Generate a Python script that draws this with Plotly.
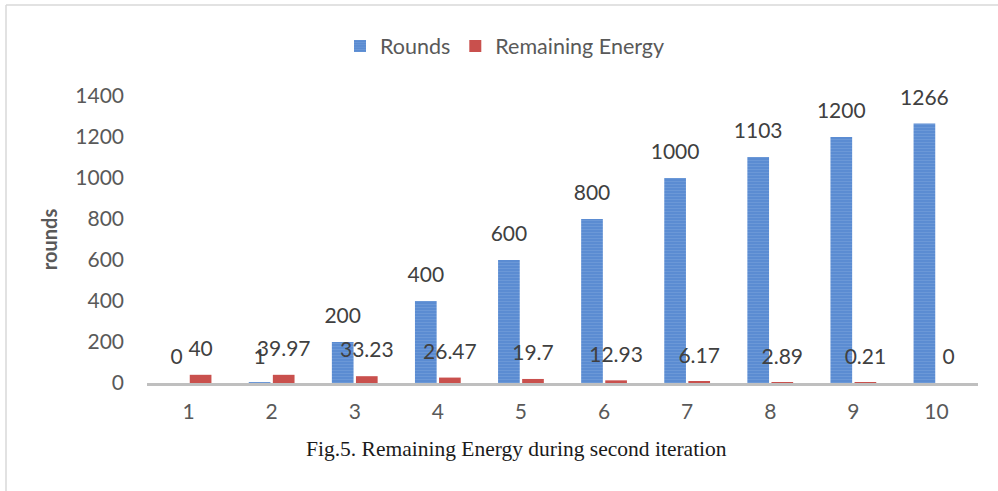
import plotly.graph_objects as go

categories = ["1", "2", "3", "4", "5", "6", "7", "8", "9", "10"]
rounds = [0, 1, 200, 400, 600, 800, 1000, 1103, 1200, 1266]
energy = [40, 39.97, 33.23, 26.47, 19.7, 12.93, 6.17, 2.89, 0.21, 0]
y_ticks = [0, 200, 400, 600, 800, 1000, 1200, 1400]

W, H = 998, 491
ML, MR, MT, MB = 147, 20, 96, 108
pw, ph = W - ML - MR, H - MT - MB

def px_x(p):
    return (p - ML) / pw

def px_y(p):
    return (H - MB - p) / ph

font_fam = "Lato, 'Open Sans', sans-serif"
grey = "#595959"
label_col = "#404040"
FS = 21

fig = go.Figure()
fig.add_trace(go.Bar(
    x=categories, y=rounds, name="Rounds",
    marker=dict(color="#5B8CD2", line=dict(width=0),
                pattern=dict(shape="-", fgcolor="#7EA6DE", size=3, solidity=0.3)),
))
fig.add_trace(go.Bar(
    x=categories, y=energy, name="Remaining Energy",
    marker=dict(color="#C9504D", line=dict(width=0)),
))
# data labels (grouped like the bars)
for vals in (rounds, energy):
    fig.add_trace(go.Scatter(
        x=categories, y=vals, mode="markers+text",
        text=[str(v) for v in vals], textposition="top center",
        marker=dict(size=20, opacity=0),
        textfont=dict(family=font_fam, size=FS, color=label_col),
        showlegend=False, hoverinfo="skip", cliponaxis=False,
    ))

fig.update_layout(
    width=W, height=H,
    margin=dict(l=ML, r=MR, t=MT, b=MB),
    paper_bgcolor="white", plot_bgcolor="white",
    barmode="group", bargap=0.42, bargroupgap=0.1,
    scattermode="group", scattergap=0.42,
    font=dict(family=font_fam, size=FS, color=grey),
    legend=dict(orientation="h", x=px_x(505), xanchor="center",
                y=px_y(46), yanchor="middle",
                font=dict(family=font_fam, size=21.5, color=grey),
                traceorder="normal"),
    showlegend=True,
)
fig.update_xaxes(
    showline=True, linecolor="#BFBFBF", linewidth=3,
    ticks="", showgrid=False, zeroline=False,
    tickfont=dict(family=font_fam, size=FS, color=grey),
    ticklabelstandoff=8,
)
fig.update_yaxes(
    range=[0, 1400], tickvals=y_ticks, showgrid=False, zeroline=False,
    showline=False, ticks="",
    tickfont=dict(family=font_fam, size=FS, color=grey),
    ticklabelstandoff=22,
    title=dict(text="<b>rounds</b>", font=dict(family=font_fam, size=20, color=grey),
               standoff=12),
)

fig.add_annotation(
    text="Fig.5. Remaining Energy during second iteration",
    xref="paper", yref="paper", x=px_x(516), y=px_y(449),
    xanchor="center", yanchor="middle", showarrow=False,
    font=dict(family="'Liberation Serif', 'Times New Roman', serif", size=21.5, color="#1a1a1a"),
)

# light frame around the chart area
fig.add_shape(type="line", xref="paper", yref="paper",
              x0=px_x(6), x1=px_x(998), y0=px_y(5), y1=px_y(5),
              line=dict(color="#D9D9D9", width=1.5))
fig.add_shape(type="line", xref="paper", yref="paper",
              x0=px_x(6), x1=px_x(6), y0=px_y(5), y1=px_y(491),
              line=dict(color="#D9D9D9", width=1.5))

fig.write_html("out.html")
